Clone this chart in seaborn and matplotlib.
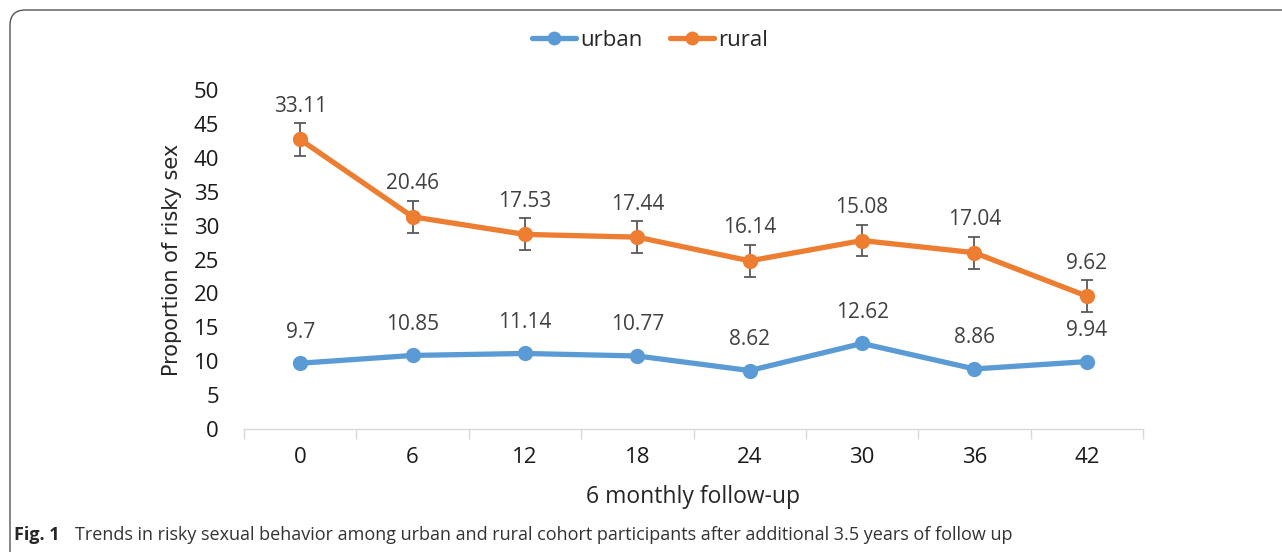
import numpy as np
import pandas as pd
import matplotlib
matplotlib.use("Agg")
import matplotlib.pyplot as plt
import seaborn as sns
from matplotlib.patches import FancyBboxPatch

# values
months = ["0", "6", "12", "18", "24", "30", "36", "42"]
urban = [9.7, 10.85, 11.14, 10.77, 8.62, 12.62, 8.86, 9.94]
rural = [42.7, 31.3, 28.7, 28.3, 24.8, 27.8, 26.0, 19.6]
rural_err = [2.4, 2.35, 2.35, 2.35, 2.35, 2.35, 2.35, 2.35]
urban_labels = ["9.7", "10.85", "11.14", "10.77", "8.62", "12.62", "8.86", "9.94"]
rural_labels = ["33.11", "20.46", "17.53", "17.44", "16.14", "15.08", "17.04", "9.62"]

BLUE = "#5B9BD5"
ORANGE = "#ED7D31"
TXT = "#404040"

sns.set_theme(style="white")
plt.rcParams["font.family"] = ["Open Sans", "DejaVu Sans"]

df = pd.DataFrame({
    "month": months * 2,
    "value": urban + rural,
    "group": ["urban"] * len(months) + ["rural"] * len(months),
})

fig = plt.figure(figsize=(12.82, 5.52), dpi=100)
ax = fig.add_axes([244 / 1282, 1 - 429 / 552, (1143 - 244) / 1282, (429 - 90) / 552])

sns.lineplot(data=df, x="month", y="value", hue="group", palette=[BLUE, ORANGE],
             marker="o", markersize=11, markeredgewidth=0, linewidth=3.8,
             sort=False, ax=ax, legend=False)

xpos = np.arange(len(months))
ax.errorbar(xpos, rural, yerr=rural_err, fmt="none", ecolor="#595959",
            elinewidth=1.3, capsize=4, capthick=1.3, zorder=1)

for x, v, s in zip(xpos, urban, urban_labels):
    ax.annotate(s, (x, v), xytext=(0, 31), textcoords="offset pixels",
                ha="center", va="center", fontsize=15, color=TXT)
for x, v, s in zip(xpos, rural, rural_labels):
    ax.annotate(s, (x, v), xytext=(0, 33), textcoords="offset pixels",
                ha="center", va="center", fontsize=15, color=TXT)

ax.set_ylim(0, 50)
ax.set_yticks(range(0, 51, 5))
ax.set_xlim(-0.5, len(months) - 0.5)
ax.set_xticks(xpos)
ax.set_xticks(np.arange(-0.5, len(months)), minor=True)
ax.tick_params(axis="x", which="major", length=0, pad=13)
ax.tick_params(axis="x", which="minor", length=7, color="#D9D9D9", width=1, direction="out", bottom=True)
ax.tick_params(axis="y", length=0, pad=18)
for lab in ax.get_xticklabels() + ax.get_yticklabels():
    lab.set_fontsize(16)
    lab.set_color("#1a1a1a")

for side in ["top", "right", "left"]:
    ax.spines[side].set_visible(False)
ax.spines["bottom"].set_color("#D9D9D9")
ax.spines["bottom"].set_linewidth(1)

ax.set_xlabel("6 monthly follow-up", fontsize=16.5, labelpad=12)
ax.set_ylabel("Proportion of risky sex", fontsize=15, labelpad=8, family=["DejaVu Sans"])

handles = [
    plt.Line2D([], [], color=BLUE, marker="o", markersize=10, linewidth=3.8, markeredgewidth=0),
    plt.Line2D([], [], color=ORANGE, marker="o", markersize=10, linewidth=3.8, markeredgewidth=0),
]
fig.legend(handles, ["urban", "rural"], loc="center", bbox_to_anchor=(650 / 1282, 1 - 40 / 552),
           ncol=2, frameon=False, handlelength=2.0, handletextpad=0.2, columnspacing=1.2,
           prop={"size": 16})

# journal frame
frame = FancyBboxPatch((10 / 1282, -0.2), 1.2, 1.2 - 10 / 552,
                       boxstyle="round,pad=0,rounding_size=0.012",
                       transform=fig.transFigure, fill=False, edgecolor="#555555",
                       linewidth=1, mutation_aspect=1282 / 552)
fig.patches.append(frame)

fig.text(14 / 1282, 1 - 535 / 552, "Fig. 1", fontsize=13, fontweight="bold", va="center")
fig.text(75 / 1282, 1 - 535 / 552,
         "Trends in risky sexual behavior among urban and rural cohort participants after additional 3.5 years of follow up",
         fontsize=13, va="center", color="#333333")

fig.savefig("out.png", dpi=100)
